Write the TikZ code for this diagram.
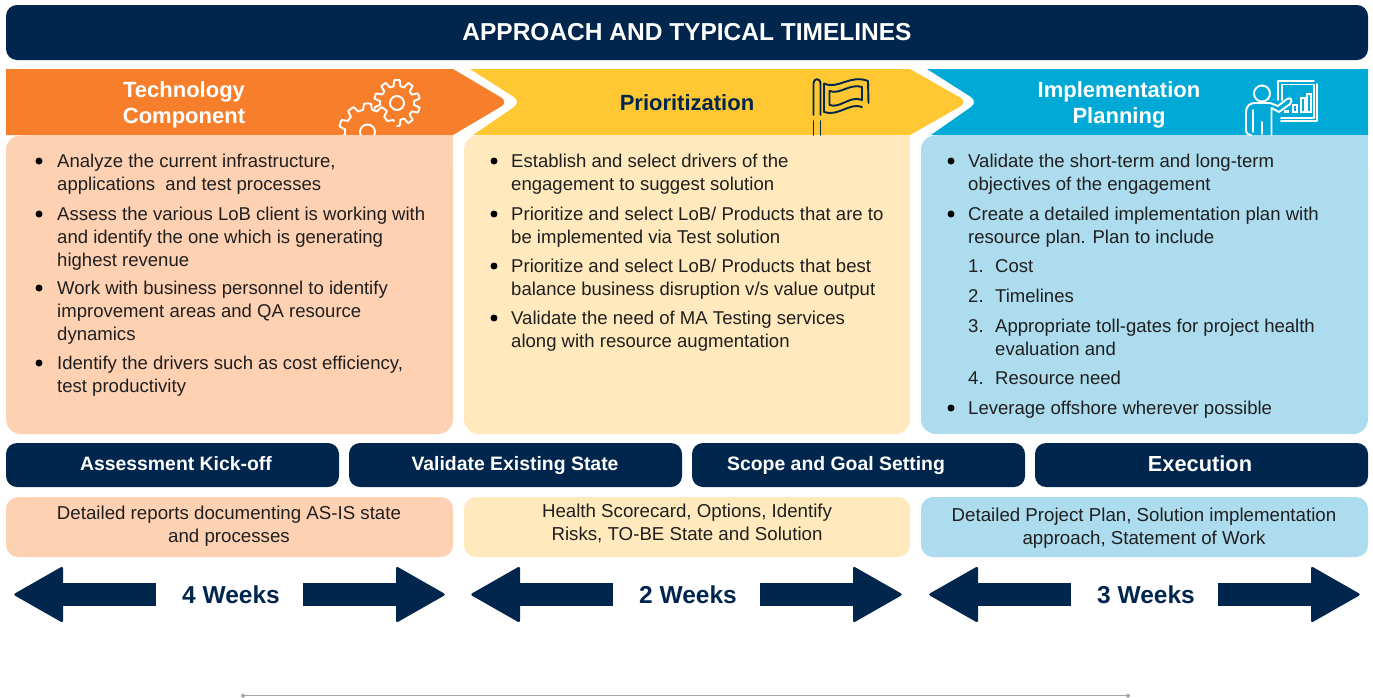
\documentclass[tikz,border=0pt]{standalone}
\usepackage{fontspec}
\setmainfont{Liberation Sans}
\definecolor{navy}{HTML}{00264D}
\definecolor{orangeC}{HTML}{F77F2C}
\definecolor{yellowC}{HTML}{FFC833}
\definecolor{blueC}{HTML}{00A9D6}
\definecolor{paleO}{HTML}{FFD1B3}
\definecolor{paleY}{HTML}{FFE9BD}
\definecolor{paleB}{HTML}{ACDCEE}
\tikzset{
  x=1pt,y=-1pt,
  bodytext/.style={anchor=west,inner sep=0pt,align=left,text=black!88,font=\fontsize{18.55}{23}\selectfont},
  striptext/.style={anchor=center,inner sep=0pt,align=center,text=black!88,font=\fontsize{18.7}{23}\selectfont},
  headtext/.style={anchor=center,inner sep=0pt,align=center,font=\bfseries\fontsize{22}{26}\selectfont},
  bartext/.style={anchor=base,inner sep=0pt,text=white,font=\bfseries\fontsize{19.4}{22}\selectfont},
  weektext/.style={anchor=center,inner sep=0pt,text=navy,font=\bfseries\fontsize{24.5}{28}\selectfont},
  navybar/.style={fill=navy,rounded corners=11pt},
  iconline/.style={line width=1.9pt,line join=round,line cap=round},
}
\newcommand{\bul}[1]{\fill[black] (#1) circle (3.5);}
\newcommand{\weeks}[3]{% left tip x, label, name
  \fill[navy,rounded corners=2.5pt] (#1-2,594.5) -- (#1+48,566) -- (#1+48,623) -- cycle;
  \fill[navy] (#1+46,583) rectangle (#1+141,606);
  \fill[navy,rounded corners=2.5pt] (#1+431,594.5) -- (#1+381,566) -- (#1+381,623) -- cycle;
  \fill[navy] (#1+288,583) rectangle (#1+383,606);
  \node[weektext] (#3) at (#1+216,595) {#2};
}
\begin{document}
\begin{tikzpicture}
\useasboundingbox (0,0) rectangle (1373,697);
% title
\fill[navybar] (6,5) rectangle (1368,60);
\node[bartext,anchor=center,font=\bfseries\fontsize{24.5}{28}\selectfont] (title) at (687,32.5) {APPROACH AND TYPICAL TIMELINES};
% chevrons
\fill[blueC] (927,69) -- (971,97) .. controls (975,100) and (975,104) .. (971,107) -- (931,135) -- (1368,135) -- (1368,69) -- cycle;
\fill[yellowC] (470,69) -- (514,97) .. controls (518,100) and (518,104) .. (514,107) -- (473,135) -- (910,135) -- (961,106) .. controls (964,104) and (964,100) .. (961,98) -- (910,69) -- cycle;
\fill[orangeC] (6,69) -- (453,69) -- (502,98) .. controls (505,100) and (505,104) .. (502,106) -- (453,135) -- (6,135) -- cycle;
% body panels
\fill[paleO,rounded corners=15pt] (6,135) -- (6,434) -- (453,434) -- (453,150) -- cycle;
\fill[paleO] (22,135) rectangle (453,165);
\fill[paleY,rounded corners=15pt] (464,135) -- (464,434) -- (910,434) -- (910,150) -- cycle;
\fill[paleY] (480,135) rectangle (910,165);
\fill[paleB,rounded corners=15pt] (921,135) -- (921,434) -- (1368,434) -- (1368,150) -- cycle;
\fill[paleB] (937,135) rectangle (1368,165);
% headings
\node[headtext,text=white] (h1) at (184,104.5) {Technology\\Component};
\node[headtext,text=navy] (h2) at (687,103) {Prioritization};
\node[headtext,text=white] (h3) at (1119,104.5) {Implementation\\Planning};
% gears
\begin{scope}
\clip (330,70) rectangle (430,134.5);
\draw[white,iconline] plot[domain=150:338,samples=200,smooth] ({367.5+(25.5+3*max(-1,min(1,2.5*sin(10*\x-90))))*cos(\x)},{132+(25.5+3*max(-1,min(1,2.5*sin(10*\x-90))))*sin(\x)});
\draw[white,iconline] (367.5,132) circle (7.5);
\end{scope}
\draw[white,iconline] plot[domain=-195:90,samples=240,smooth] ({397+(20+3*max(-1,min(1,2.5*sin(10*\x-90))))*cos(\x)},{103+(20+3*max(-1,min(1,2.5*sin(10*\x-90))))*sin(\x)});
\draw[white,iconline] (397,103) circle (7);
% flag
\begin{scope}[navy]
\draw[iconline] (813.5,115) -- (813.5,83) .. controls (813.5,78) and (820.5,78) .. (820.5,83) -- (820.5,115);
\draw[iconline] (813.5,121) -- (813.5,135) (820.5,121) -- (820.5,135);
\draw[iconline] (824,83.5) .. controls (838,90) and (850,74) .. (868,81) -- (868.5,103);
\draw[iconline] (824,83.5) -- (824,112) .. controls (838,117) and (850,102) .. (862,107);
\draw[iconline] (829.5,91) .. controls (840,95) and (850,83) .. (862,87) -- (862,100) .. controls (850,95) and (840,109) .. (829.5,105) -- cycle;
\end{scope}
% presenter
\begin{scope}[white]
\draw[iconline] (1262,93.5) circle (8);
\draw[iconline] (1251,135) .. controls (1249,135) and (1246,134) .. (1246,130) -- (1246,112) .. controls (1246,106) and (1250,103) .. (1255,103) -- (1270,103) -- (1278,106) -- (1287,99) .. controls (1291,97) and (1293,100) .. (1290,104) -- (1279,112) -- (1271.5,108) -- (1271.5,135);
\draw[iconline] (1253,110) -- (1253,132);
\draw[iconline] (1262,122) -- (1262,134);
\draw[iconline] (1278,100) -- (1278,81) -- (1314,81);
\draw[iconline] (1282,100) -- (1282,84.5) -- (1314,84.5) -- (1314,118) -- (1281,118);
\draw[iconline] (1281,121) -- (1317,121) -- (1317,84);
\fill (1284,110) rectangle (1289,113);
\draw[line width=1.5pt] (1293,105) rectangle (1297,112);
\draw[line width=1.5pt] (1301,98) rectangle (1305,112);
\draw[line width=1.5pt] (1307,94) rectangle (1311,112);
\end{scope}
% column 1
\bul{39,161} \bul{39,214} \bul{39,288} \bul{39,363}
\node[bodytext] (a1) at (57,173.7) {Analyze the current infrastructure,\\applications\ \ and test processes};
\node[bodytext] (a2) at (57,238.7) {Assess the various LoB client is working with\\and identify the one which is generating\\highest revenue};
\node[bodytext] (a3) at (57,312.7) {Work with business personnel to identify\\improvement areas and QA resource\\dynamics};
\node[bodytext] (a4) at (57,375.7) {Identify the drivers such as cost efficiency,\\test productivity};
% column 2
\bul{494,161} \bul{494,214} \bul{494,266} \bul{494,318}
\node[bodytext] (b1) at (511,173.7) {Establish and select drivers of the\\engagement to suggest solution};
\node[bodytext] (b2) at (511,226.7) {Prioritize and select LoB/ Products that are to\\be implemented via Test solution};
\node[bodytext] (b3) at (511,278.7) {Prioritize and select LoB/ Products that best\\balance business disruption v/s value output};
\node[bodytext] (b4) at (511,330.7) {Validate the need of MA Testing services\\along with resource augmentation};
% column 3
\bul{951,161} \bul{951,214} \bul{951,408}
\node[bodytext] (c1) at (968,173.7) {Validate the short-term and long-term\\objectives of the engagement};
\node[bodytext] (c2) at (968,226.7) {Create a detailed implementation plan with\\resource plan. Plan to include};
\node[bodytext] (n1) at (968,266) {1.};
\node[bodytext] (n2) at (968,296) {2.};
\node[bodytext] (n3) at (968,326) {3.};
\node[bodytext] (n4) at (968,378) {4.};
\node[bodytext] (c3) at (995,266) {Cost};
\node[bodytext] (c4) at (995,296) {Timelines};
\node[bodytext] (c5) at (995,337.7) {Appropriate toll-gates for project health\\evaluation and};
\node[bodytext] (c6) at (995,378) {Resource need};
\node[bodytext] (c7) at (968,409.5) {Leverage offshore wherever possible};
% milestone bars
\fill[navybar] (6,443) rectangle (339,487);
\fill[navybar] (349,443) rectangle (682,487);
\fill[navybar] (692,443) rectangle (1025,487);
\fill[navybar] (1035,443) rectangle (1368,487);
\node[bartext] (m1) at (176,470) {Assessment Kick-off};
\node[bartext] (m2) at (515,470) {Validate Existing State};
\node[bartext] (m3) at (836,470) {Scope and Goal Setting};
\node[bartext,font=\bfseries\fontsize{21.8}{26}\selectfont] (m4) at (1200,471.5) {Execution};
% deliverables
\fill[paleO,rounded corners=12pt] (6,497) rectangle (453,557);
\fill[paleY,rounded corners=12pt] (464,497) rectangle (910,557);
\fill[paleB,rounded corners=12pt] (921,497) rectangle (1368,557);
\node[striptext] (d1) at (229,526) {Detailed reports documenting AS-IS state\\and processes};
\node[striptext] (d2) at (687,523) {Health Scorecard, Options, Identify\\Risks, TO-BE State and Solution};
\node[striptext] (d3) at (1144,528.5) {Detailed Project Plan, Solution implementation\\approach, Statement of Work};
% durations
\weeks{15}{4 Weeks}{w1}
\weeks{472}{2 Weeks}{w2}
\weeks{930}{3 Weeks}{w3}
% bottom rule
\coordinate (ruleL) at (243,695.7);
\coordinate (ruleR) at (1128,695.7);
\draw[black!35,line width=1pt] (ruleL) -- (ruleR);
\fill[black!35] (ruleL) circle (2);
\fill[black!35] (ruleR) circle (2);
\end{tikzpicture}
\end{document}
